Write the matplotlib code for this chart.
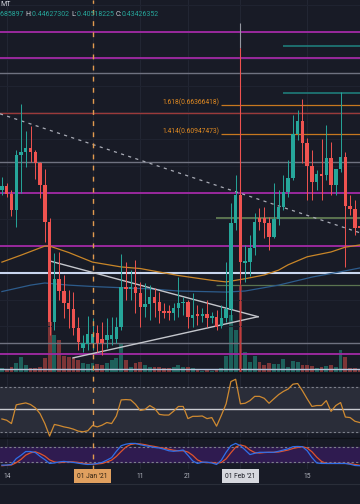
import matplotlib.pyplot as plt
import numpy as np
import pandas as pd
from matplotlib.lines import Line2D

# daily XRP/USDT candles, 13 Dec 2020 .. 27 Feb 2021
dates = pd.date_range("2020-12-13", periods=76, freq="D")

opens = [0.505, 0.512, 0.497, 0.468, 0.570, 0.576, 0.583, 0.576, 0.555, 0.514,
         0.445, 0.258, 0.339, 0.316, 0.294, 0.283, 0.247, 0.210, 0.217, 0.219,
         0.238, 0.226, 0.225, 0.226, 0.226, 0.249, 0.324, 0.320, 0.324, 0.312,
         0.286, 0.292, 0.305, 0.296, 0.279, 0.279, 0.275, 0.284, 0.294, 0.296,
         0.266, 0.273, 0.269, 0.273, 0.266, 0.268, 0.251, 0.266, 0.283, 0.443,
         0.496, 0.369, 0.370, 0.397, 0.453, 0.453, 0.443, 0.417, 0.451, 0.473,
         0.501, 0.527, 0.610, 0.634, 0.593, 0.550, 0.520, 0.535, 0.533, 0.565,
         0.514, 0.544, 0.567, 0.475, 0.469, 0.43686]
highs = [0.529, 0.518, 0.505, 0.580, 0.666, 0.615, 0.625, 0.580, 0.557, 0.544,
         0.453, 0.387, 0.389, 0.346, 0.318, 0.314, 0.268, 0.234, 0.269, 0.266,
         0.253, 0.258, 0.266, 0.268, 0.268, 0.385, 0.370, 0.355, 0.374, 0.333,
         0.331, 0.327, 0.322, 0.314, 0.294, 0.290, 0.294, 0.342, 0.305, 0.299,
         0.312, 0.290, 0.284, 0.299, 0.277, 0.281, 0.290, 0.370, 0.481, 0.533,
         0.770, 0.402, 0.421, 0.462, 0.471, 0.473, 0.454, 0.518, 0.505, 0.533,
         0.561, 0.645, 0.654, 0.675, 0.602, 0.580, 0.542, 0.600, 0.626, 0.595,
         0.533, 0.688, 0.576, 0.496, 0.486, 0.44627]
lows = [0.496, 0.492, 0.456, 0.436, 0.499, 0.548, 0.557, 0.526, 0.490, 0.408,
        0.234, 0.243, 0.299, 0.266, 0.247, 0.234, 0.206, 0.202, 0.206, 0.206,
        0.202, 0.197, 0.210, 0.215, 0.219, 0.243, 0.299, 0.299, 0.275, 0.249,
        0.268, 0.262, 0.268, 0.256, 0.266, 0.262, 0.262, 0.268, 0.271, 0.247,
        0.249, 0.253, 0.258, 0.249, 0.256, 0.243, 0.247, 0.258, 0.262, 0.430,
        0.331, 0.333, 0.344, 0.383, 0.430, 0.415, 0.393, 0.415, 0.440, 0.467,
        0.492, 0.524, 0.598, 0.555, 0.486, 0.486, 0.505, 0.486, 0.524, 0.496,
        0.496, 0.539, 0.361, 0.458, 0.421, 0.40518]
closes = [0.512, 0.497, 0.468, 0.570, 0.576, 0.583, 0.576, 0.555, 0.514, 0.445,
          0.258, 0.339, 0.316, 0.294, 0.283, 0.247, 0.221, 0.219, 0.236, 0.236,
          0.219, 0.219, 0.234, 0.234, 0.249, 0.324, 0.320, 0.324, 0.312, 0.286,
          0.292, 0.305, 0.294, 0.279, 0.275, 0.275, 0.284, 0.294, 0.296, 0.268,
          0.271, 0.269, 0.273, 0.266, 0.269, 0.249, 0.266, 0.283, 0.443, 0.496,
          0.370, 0.372, 0.397, 0.445, 0.445, 0.443, 0.417, 0.451, 0.473, 0.501,
          0.527, 0.610, 0.634, 0.593, 0.550, 0.520, 0.535, 0.531, 0.565, 0.514,
          0.544, 0.567, 0.475, 0.469, 0.434, 0.43426]
volumes = [80, 40, 100, 180, 300, 140, 80, 80, 100, 280,
           1000, 740, 640, 320, 300, 280, 240, 180, 160, 180,
           160, 140, 180, 240, 280, 580, 240, 100, 180, 200,
           140, 100, 100, 100, 80, 80, 100, 140, 100, 100,
           80, 40, 30, 40, 30, 55, 75, 320, 1140, 840,
           1740, 405, 205, 320, 205, 140, 175, 160, 160, 255,
           105, 225, 205, 140, 140, 120, 75, 95, 120, 140,
           95, 440, 305, 75, 75, 55]  # millions
rsi = [41.7, 40.6, 37.7, 54.0, 54.9, 55.7, 54.3, 51.4, 46.3, 37.7,
       26.8, 36.9, 36.0, 34.8, 34.0, 32.8, 31.1, 30.5, 31.4, 36.0,
       34.8, 36.3, 38.6, 37.7, 44.3, 58.3, 58.6, 58.3, 54.5, 49.1,
       50.0, 53.4, 50.9, 45.7, 45.1, 45.1, 48.5, 52.6, 52.6, 42.0,
       44.0, 44.0, 44.3, 42.0, 42.9, 35.4, 44.8, 54.9, 74.3, 76.3,
       54.9, 55.4, 57.7, 61.4, 61.4, 59.7, 55.4, 59.2, 62.9, 65.7,
       67.8, 72.0, 72.6, 66.3, 59.2, 52.6, 53.4, 53.4, 57.7, 48.3,
       53.4, 56.0, 43.4, 42.9, 39.7, 38.6]
stoch_k = [7.5, 7.5, 10, 33, 46, 61, 61, 57, 42, 29,
           14, 16, 20, 22, 20, 18, 15, 12, 10, 11,
           14, 18, 27, 37, 62, 84, 90, 93, 93, 88,
           84, 81, 77, 75, 70, 64, 62, 64, 67, 46,
           24, 14, 19, 19, 16, 10, 27, 58, 84, 93,
           84, 67, 49, 54, 58, 58, 58, 58, 62, 67,
           72, 80, 81, 80, 64, 37, 16, 14, 14, 14,
           14, 14, 14, 11, 6, 5]
stoch_d = [5, 7, 8, 17, 30, 47, 56, 60, 53, 43,
           28, 20, 17, 19, 21, 20, 18, 15, 12, 11,
           12, 14, 20, 27, 42, 61, 79, 89, 92, 91,
           88, 84, 81, 77, 74, 70, 66, 64, 64, 59,
           46, 28, 19, 17, 18, 15, 18, 32, 56, 78,
           87, 82, 67, 57, 55, 57, 58, 58, 59, 63,
           67, 73, 77, 80, 75, 60, 39, 22, 14, 14,
           14, 14, 14, 13, 10, 7]

# moving averages read at some candles (index, price)
ma_orange_idx = [0, 4, 9, 10, 14, 19, 25, 29, 37, 44, 47, 51, 55, 58, 60, 64, 69, 72, 75]
ma_orange = [0.370, 0.383, 0.400, 0.400, 0.388, 0.370, 0.361, 0.358, 0.345, 0.336,
             0.333, 0.339, 0.346, 0.355, 0.365, 0.380, 0.389, 0.398, 0.402]
ma_blue_idx = [0, 6, 9, 14, 20, 31, 37, 47, 51, 58, 65, 71, 75]
ma_blue = [0.315, 0.327, 0.331, 0.327, 0.324, 0.320, 0.316, 0.314, 0.316, 0.327,
           0.342, 0.352, 0.359]

# drawings
magenta_levels = [0.800, 0.752, 0.499, 0.400, 0.198]
gray_levels = [0.724, 0.557, 0.219]
red_level = 0.649
light_levels = [0.350, 0.170]
teal_levels = [0.774, 0.686]      # start at 10 Feb
olive_levels = [0.453, 0.327]     # start at 27 Jan
fib_ratios = ["1.618", "1.414"]
fib_prices = [0.66366418, 0.60947473]
trend_pts = [(0, 0.646), (75, 0.425)]
tri_upper = [(10.1, 0.372), (53.7, 0.268)]
tri_lower = [(14.9, 0.191), (53.7, 0.268)]

legend_parts = [("685897 ", "v"), ("H:", "k"), ("0.44627302 ", "v"), ("L:", "k"),
                ("0.40518225 ", "v"), ("C:", "k"), ("0.43426352", "v")]

BG = "#181b26"
UP, DOWN = "#26a69a", "#ef5350"
MAGENTA = "#a32aa6"

W, H = 360, 504
fig = plt.figure(figsize=(3.6, 5.04), dpi=100, facecolor=BG)


def rect(top, bottom):
    return [0, 1 - bottom / H, 1, (bottom - top) / H]


ax_vol = fig.add_axes(rect(0, 372))
ax = fig.add_axes(rect(0, 372), sharex=ax_vol)
ax_rsi = fig.add_axes(rect(374, 437), sharex=ax_vol)
ax_st = fig.add_axes(rect(438, 469), sharex=ax_vol)
ax_x = fig.add_axes(rect(469, 484), sharex=ax_vol)

for a in [ax_vol, ax, ax_rsi, ax_st, ax_x]:
    a.set_facecolor(BG)
    for s in a.spines.values():
        s.set_visible(False)
    a.tick_params(left=False, bottom=False, labelleft=False, labelbottom=False)
ax.set_facecolor("none")

x = np.arange(len(dates))
ax_vol.set_xlim(-0.40, 75.07)
ax.set_ylim(0.16464, 0.8599)
ax_vol.set_ylim(0, 7440)
ax_rsi.set_ylim(25.97, 80.9)
ax_st.set_ylim(-7.9, 114.4)
ax_x.set_ylim(0, 1)

tick_days = ["2020-12-14", "2021-01-01", "2021-01-11", "2021-01-21", "2021-02-01", "2021-02-15"]
tick_labels = ["14", "01 Jan '21", "11", "21", "01 Feb '21", "15"]
tick_idx = [dates.get_loc(pd.Timestamp(d)) for d in tick_days]

# grid
for a in [ax_vol, ax_rsi, ax_st]:
    for t in tick_idx:
        a.axvline(t, color="#222633", lw=0.8, zorder=0)
for p in np.arange(0.20, 0.86, 0.05):
    ax.axhline(p, color="#1f2330", lw=0.8, zorder=0)

# volume
o = np.array(opens); c = np.array(closes)
up = c >= o
vcol = np.where(up, "#1d605b", "#7d3537")
ax_vol.bar(x, volumes, width=0.8, color=vcol, zorder=1)

# levels
for lv in magenta_levels:
    ax.axhline(lv, color=MAGENTA, lw=1.3, zorder=2)
for lv in gray_levels:
    ax.axhline(lv, color="#6f7280", lw=1.0, zorder=2)
ax.axhline(red_level, color="#9b3a3a", lw=1.0, zorder=2)
ax.axhline(light_levels[0], color="#c9d6ee", lw=1.5, zorder=2)
ax.axhline(light_levels[1], color="#b9c7df", lw=1.0, zorder=2)
for lv in teal_levels:
    ax.hlines(lv, 58.9, 80, color="#1f7c7a", lw=1.2, zorder=2)
for lv, lw in zip(olive_levels, [1.4, 0.9]):
    ax.hlines(lv, 44.9, 80, color="#5b7450", lw=lw, zorder=2)
for r, p in zip(fib_ratios, fib_prices):
    ax.hlines(p, 45.9, 80, color="#c7781f", lw=0.9, zorder=2)
    ax.text(45.6, p + 0.005, f"{r}({p:.8f})", color="#e08a22", fontsize=4.9,
            family="Roboto", ha="right", va="center", zorder=3)

# moving averages
ax.plot(ma_orange_idx, ma_orange, color="#c98628", lw=0.9, zorder=3)
ax.plot(ma_blue_idx, ma_blue, color="#2d5c8c", lw=0.9, zorder=3)

# trend line and triangle
ax.axline(trend_pts[0], trend_pts[1], color="#a9acb6", lw=0.9, ls=(0, (2.5, 3.5)), zorder=3)
for seg in [tri_upper, tri_lower]:
    ax.plot([seg[0][0], seg[1][0]], [seg[0][1], seg[1][1]], color="#c4c6cc", lw=1.0, zorder=3)

# vertical markers at 1 Feb
i_feb = tick_idx[4]
ax.vlines(i_feb, 0.1, 0.770, color="#c23a3c", lw=0.8, zorder=3)
ax.vlines(i_feb, 0.770, 0.817, color="#9598a1", lw=0.8, zorder=3)

# candles
col = np.where(up, UP, DOWN)
ax.vlines(x, lows, highs, color=col, lw=0.7, zorder=4)
body = np.maximum(np.abs(c - o), 0.002)
ax.bar(x, body, bottom=np.minimum(o, c), width=0.72, color=col, zorder=5)

# RSI panel
ax_rsi.axhspan(30, 70, color="#2a2d39", zorder=0)
for lv in [70, 30]:
    ax_rsi.axhline(lv, color="#7d808b", lw=0.8, ls=(0, (2, 2)))
ax_rsi.axhline(50, color="#c9cbd1", lw=1.0)
ax_rsi.plot(x, rsi, color="#cf8a31", lw=0.9)

# Stoch RSI panel
ax_st.axhspan(20, 80, color="#2f1b50", zorder=0)
for lv in [80, 20]:
    ax_st.axhline(lv, color="#7d808b", lw=0.8, ls=(0, (2, 2)))
ax_st.plot(x, stoch_d, color="#e0532c", lw=0.9)
ax_st.plot(x, stoch_k, color="#2f6fe8", lw=0.9)

# separators
for yy in [373, 437.5]:
    fig.add_artist(Line2D([0, 1], [1 - yy / H] * 2, color="#0f1118", lw=1.0))
fig.add_artist(Line2D([0, 1], [1 - 484 / H] * 2, color="#2a2e39", lw=0.8))

# dashed orange vertical at 1 Jan
fig.canvas.draw()
xf = ax.transData.transform((tick_idx[1], 0.5))[0] / fig.bbox.width
fig.add_artist(Line2D([xf, xf], [1 - 470 / H, 1], color="#e39b4f", lw=1.0,
                      ls=(0, (3.5, 4.5))))

# x axis labels
for t, lab in zip(tick_idx, tick_labels):
    if lab == "01 Jan '21":
        ax_x.text(t, 0.52, lab, ha="center", va="center", fontsize=4.8, family="Roboto",
                  color="#2a1e10", bbox=dict(boxstyle="square,pad=0.55", fc="#e0a05f", ec="none"))
    elif lab == "01 Feb '21":
        ax_x.text(t, 0.52, lab, ha="center", va="center", fontsize=4.8, family="Roboto",
                  color="#1a1c24", bbox=dict(boxstyle="square,pad=0.55", fc="#d6d8de", ec="none"))
    else:
        ax_x.text(t, 0.52, lab, ha="center", va="center", fontsize=4.8, family="Roboto",
                  color="#b2b5be")

# legend at the top left
fs = 5.0
fig.text(0.5 / W, 1 - 5 / H, "MT", color="#d1d4dc", fontsize=fs, family="Roboto",
         ha="left", va="center")
renderer = fig.canvas.get_renderer()
px = 0.5
for s, kind in legend_parts:
    t = fig.text(px / W, 1 - 15 / H, s, color=UP if kind == "v" else "#d1d4dc",
                 fontsize=fs, family="Roboto", ha="left", va="center")
    px += t.get_window_extent(renderer).width

fig.savefig("out.png", dpi=100, facecolor=BG)
